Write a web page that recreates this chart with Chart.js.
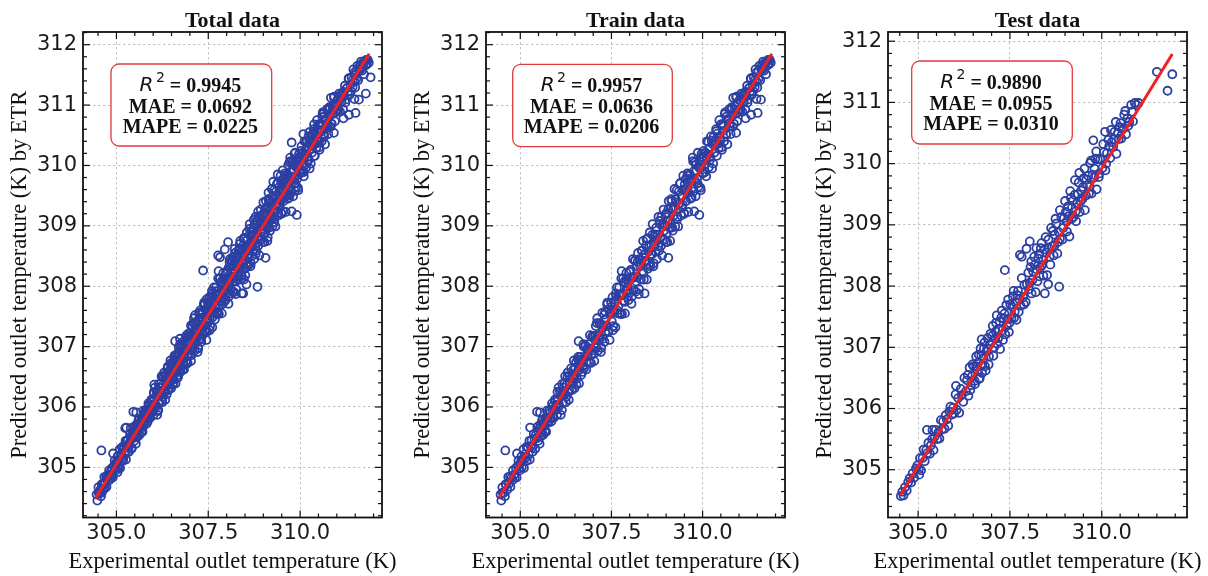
<!DOCTYPE html>
<html>
<head>
<meta charset="utf-8">
<script src="https://cdn.jsdelivr.net/npm/chart.js@4/dist/chart.umd.min.js"></script>
<style>
 body{margin:0;background:#fff;width:1208px;height:576px;position:relative;overflow:hidden}
 canvas{position:absolute;top:0}
</style>
</head>
<body>
<canvas id="c0" width="403" height="576" style="left:0px"></canvas>
<canvas id="c1" width="403" height="576" style="left:403px"></canvas>
<canvas id="c2" width="403" height="576" style="left:805px"></canvas>
<script>
// ---- data ----
const panelTitles=["Total data","Train data","Test data"];
const r2Values=["0.9945","0.9957","0.9890"];
const maeValues=["0.0692","0.0636","0.0955"];
const mapeValues=["0.0225","0.0206","0.0310"];

const xTicks=[305.0,307.5,310.0];
const yTicks=[305,306,307,308,309,310,311,312];

const xTitle="Experimental outlet temperature (K)";
const yTitle="Predicted outlet temperature (K) by ETR";

// [experimental, predicted]
const trainPoints=[
 [304.46,304.55],[304.48,304.45],[304.51,304.67],[304.52,304.58],[304.55,304.58],[304.58,304.52],[304.60,304.72],[304.61,304.71],[304.64,304.63],[304.67,304.84],[304.69,304.73],[304.72,304.85],[304.73,304.68],[304.76,304.83],[304.79,304.79],[304.80,304.95],[304.83,304.88],[304.85,304.83],[304.88,304.99],[304.90,304.83],[304.93,305.02],[304.95,305.11],[304.97,304.98],[304.99,304.95],[304.59,305.28],[304.91,305.23],
 [305.01,305.08],[305.03,305.18],[305.04,305.00],[305.07,305.12],[305.09,305.30],[305.10,304.99],[305.13,305.22],[305.15,305.16],[305.17,305.34],[305.18,305.11],[305.21,305.33],[305.23,305.21],[305.25,305.44],[305.26,305.13],[305.29,305.35],[305.31,305.45],[305.33,305.33],[305.34,305.26],[305.37,305.55],[305.39,305.47],[305.41,305.31],[305.42,305.53],[305.45,305.48],[305.47,305.67],[305.49,305.44],[305.50,305.59],
 [305.53,305.39],[305.55,305.71],[305.57,305.61],[305.58,305.57],[305.61,305.79],[305.63,305.54],[305.65,305.75],[305.66,305.68],[305.69,305.82],[305.71,305.59],[305.73,305.94],[305.74,305.80],[305.77,305.74],[305.79,305.94],[305.81,305.81],[305.82,305.91],[305.85,305.76],[305.87,306.06],[305.89,305.83],[305.90,306.02],[305.93,305.94],[305.95,306.12],[305.97,305.95],[305.99,306.04],[305.46,305.92],[305.27,305.66],[305.54,305.91],
 [305.52,305.64],[305.56,305.51],[305.60,305.78],[305.64,305.70],[305.68,305.59],[305.72,305.81],[305.76,305.77],[305.80,305.95],[305.84,305.81],[305.88,305.95],[305.92,305.82],[305.96,306.09],
 [306.01,305.87],[306.03,306.12],[306.05,306.32],[306.06,306.01],[306.09,306.26],[306.11,305.87],[306.13,306.19],[306.15,306.38],[306.17,306.07],[306.19,306.32],[306.21,306.21],[306.23,306.51],[306.25,306.08],[306.27,306.37],[306.29,306.49],[306.31,306.24],[306.33,306.12],[306.35,306.51],[306.37,306.40],[306.39,306.64],[306.41,306.29],[306.43,306.50],[306.45,306.42],[306.47,306.77],[306.49,306.31],
 [306.02,306.25],[306.06,306.04],[306.10,306.23],[306.14,305.95],[306.18,306.24],[306.22,306.40],[306.26,306.17],[306.30,306.57],[306.34,306.28],[306.38,306.47],[306.42,306.28],[306.46,306.62],[306.50,306.53],[306.54,306.37],[306.58,306.79],[306.62,306.61],[306.66,306.78],[306.70,306.58],[306.74,307.00],[306.82,306.75],[306.88,306.95],[306.94,306.73],
 [306.51,306.65],[306.53,306.74],[306.55,306.47],[306.57,306.59],[306.59,306.83],[306.61,306.39],[306.63,306.74],[306.65,306.83],[306.67,306.53],[306.69,306.78],[306.71,306.67],[306.73,307.04],[306.75,306.64],[306.77,306.83],[306.79,307.02],[306.81,306.62],[306.83,306.96],[306.85,306.84],[306.87,307.04],[306.89,306.74],[306.91,307.19],[306.93,306.97],[306.95,306.87],[306.97,307.17],[306.99,306.94],[306.60,307.09],
 [307.01,307.17],[307.03,306.76],[307.05,307.12],[307.07,307.34],[307.09,306.98],[307.11,307.47],[307.13,306.93],[307.15,307.19],[307.17,307.39],[307.19,307.14],[307.21,306.91],[307.23,307.36],[307.25,307.56],[307.27,307.13],[307.29,307.35],[307.31,307.08],[307.33,307.58],[307.35,307.46],[307.37,307.34],[307.39,307.73],[307.41,307.25],[307.43,307.61],[307.45,307.11],[307.47,307.56],[307.49,307.73],
 [307.02,306.88],[307.06,307.18],[307.10,307.39],[307.14,307.11],[307.18,307.38],[307.22,306.98],[307.26,307.31],[307.30,307.53],[307.34,307.25],[307.38,307.70],[307.42,307.25],[307.46,307.54],[307.50,307.66],[307.54,307.27],[307.58,307.60],[307.62,307.88],[307.66,307.60],[307.70,307.85],[307.74,307.54],[307.78,307.85],[307.82,308.13],[307.86,307.74],[307.90,308.11],[307.94,307.93],[307.98,308.10],
 [307.51,307.42],[307.53,307.82],[307.55,307.34],[307.57,307.59],[307.59,307.74],[307.61,307.32],[307.63,307.83],[307.65,307.98],[307.67,307.55],[307.69,307.67],[307.71,307.98],[307.73,307.55],[307.75,307.86],[307.77,308.13],[307.79,307.54],[307.81,307.88],[307.83,307.76],[307.85,308.07],[307.87,307.55],[307.89,308.05],[307.91,308.22],[307.93,307.82],[307.95,307.99],[307.97,307.77],[307.99,308.24],[307.78,308.25],
 [308.01,307.89],[308.03,308.27],[308.05,307.71],[308.07,308.15],[308.09,308.45],[308.11,307.93],[308.13,308.15],[308.15,308.43],[308.17,307.91],[308.19,308.33],[308.21,308.15],[308.23,308.55],[308.25,307.87],[308.27,308.45],[308.29,308.33],[308.31,308.11],[308.33,308.59],[308.35,308.25],[308.37,308.75],[308.39,308.11],[308.41,308.53],[308.43,308.41],[308.45,308.67],[308.47,308.11],[308.49,308.79],
 [308.02,308.14],[308.06,307.83],[308.10,308.14],[308.14,308.42],[308.18,308.08],[308.22,308.41],[308.26,307.95],[308.30,308.37],[308.34,308.59],[308.38,308.22],[308.42,308.42],[308.46,308.78],[308.50,308.29],[308.54,308.65],[308.58,308.53],[308.62,308.85],[308.66,308.38],[308.70,308.86],[308.74,308.76],[308.78,308.66],[308.82,309.08],[308.86,308.67],[308.90,308.99],[308.94,308.92],[308.98,309.19],
 [308.51,308.57],[308.53,308.37],[308.55,308.89],[308.57,308.33],[308.59,308.69],[308.61,308.53],[308.63,309.03],[308.65,308.33],[308.67,308.83],[308.69,308.69],[308.71,308.57],[308.73,308.97],[308.75,308.45],[308.77,308.85],[308.79,309.15],[308.81,308.59],[308.83,309.03],[308.85,308.81],[308.87,309.15],[308.89,308.51],[308.91,309.03],[308.93,309.27],[308.95,308.77],[308.97,309.01],[308.99,308.73],[309.06,308.47],[308.41,307.88],
 [309.01,309.21],[309.03,308.73],[309.05,309.09],[309.07,309.41],[309.09,308.97],[309.11,308.75],[309.13,309.29],[309.15,309.41],[309.17,308.97],[309.19,309.27],[309.21,309.17],[309.23,309.61],[309.25,308.99],[309.27,309.39],[309.29,309.59],[309.31,309.15],[309.33,308.99],[309.35,309.57],[309.37,309.37],[309.39,309.71],[309.41,309.17],[309.43,309.49],[309.45,309.35],[309.47,309.83],[309.49,309.21],
 [309.02,308.88],[309.06,309.27],[309.10,309.07],[309.14,309.44],[309.18,308.92],[309.22,309.31],[309.26,309.44],[309.30,309.11],[309.34,309.36],[309.38,309.70],[309.42,309.32],[309.46,309.60],[309.50,309.20],[309.54,309.59],[309.58,309.83],[309.62,309.55],[309.66,309.78],[309.70,309.47],[309.74,310.07],[309.78,309.76],[309.82,310.01],[309.86,309.70],[309.90,309.97],[309.94,309.63],[309.98,310.14],
 [309.51,309.69],[309.53,309.77],[309.55,309.41],[309.57,309.55],[309.59,309.87],[309.61,309.23],[309.63,309.73],[309.65,309.85],[309.67,309.45],[309.69,309.73],[309.71,309.63],[309.73,310.13],[309.75,309.57],[309.77,309.91],[309.79,310.05],[309.81,309.49],[309.83,309.91],[309.85,309.79],[309.87,310.21],[309.89,309.65],[309.91,310.07],[309.93,309.95],[309.95,309.59],[309.97,310.19],[309.99,309.87],[309.91,309.18],[309.77,309.24],
 [310.01,309.87],[310.03,310.24],[310.05,310.02],[310.08,310.21],[310.10,309.82],[310.12,310.40],[310.14,310.18],[310.17,309.97],[310.19,310.29],[310.21,310.14],[310.23,310.48],[310.26,309.95],[310.28,310.35],[310.30,310.47],[310.32,310.21],[310.35,310.34],[310.37,310.60],[310.39,310.16],[310.41,310.53],[310.44,310.29],[310.46,310.75],[310.48,310.42],
 [310.02,310.14],[310.07,309.89],[310.11,310.14],[310.16,310.39],[310.20,310.09],[310.25,310.41],[310.29,310.03],[310.34,310.40],[310.38,310.57],[310.43,310.36],[310.47,310.46],[310.52,310.30],[310.56,310.69],[310.61,310.85],[310.65,310.51],[310.70,310.77],[310.74,310.70],[310.79,310.96],[310.83,310.64],[310.88,310.93],[310.92,311.13],[310.97,310.88],
 [310.50,310.68],[310.53,310.26],[310.55,310.57],[310.57,310.66],[310.59,310.40],[310.62,310.88],[310.64,310.52],[310.66,310.81],[310.68,310.35],[310.71,310.76],[310.73,310.93],[310.75,310.66],[310.77,310.52],[310.80,310.93],[310.82,310.83],[310.84,311.12],[310.86,310.69],[310.89,310.99],[310.91,310.87],[310.93,311.14],[310.95,310.73],[310.98,311.02],[310.92,310.54],
 [311.01,311.08],[311.04,310.93],[311.06,311.19],[311.09,310.89],[311.11,311.10],[311.14,311.18],[311.17,310.93],[311.19,311.15],[311.22,311.32],[311.24,311.09],[311.27,311.28],[311.30,311.22],[311.32,311.44],[311.35,311.17],[311.37,311.34],[311.40,311.46],[311.43,311.30],[311.45,311.59],[311.48,311.39],[311.50,311.29],[311.53,311.56],[311.56,311.65],[311.58,311.41],[311.61,311.59],[311.63,311.57],[311.66,311.72],[311.69,311.57],[311.71,311.70],[311.74,311.51],[311.76,311.72],[311.79,311.66],[311.82,311.68],[311.84,311.75],[311.87,311.70],
 [311.03,310.91],[311.08,311.16],[311.13,311.06],[311.18,311.22],[311.23,311.04],[311.28,311.28],[311.33,311.44],[311.38,311.23],[311.43,311.41],[311.48,311.54],[311.53,311.43],[311.63,311.66],[311.73,311.70],[311.80,311.75],
 [311.60,311.09],[311.33,310.84],[311.00,310.92],[311.18,310.78],[311.48,311.10],[311.51,310.87]
];

const testPoints=[
 [304.53,304.57],[304.57,304.64],[304.60,304.58],[304.64,304.71],[304.69,304.66],[304.73,304.80],[304.77,304.86],[304.81,304.79],[304.85,304.94],[304.89,304.87],[304.94,305.02],[304.98,305.07],[305.03,304.92],
 [305.02,305.01],[305.05,305.19],[305.08,304.99],[305.12,305.19],[305.15,305.33],[305.18,305.14],[305.22,305.32],[305.25,305.27],[305.28,305.44],[305.32,305.26],[305.35,305.40],[305.38,305.50],[305.42,305.32],[305.45,305.54],[305.48,305.65],[305.52,305.50],[305.55,305.61],[305.58,305.51],[305.62,305.81],[305.65,305.66],[305.68,305.79],[305.72,305.67],[305.75,305.89],[305.78,305.82],[305.82,305.72],[305.85,305.95],[305.88,306.03],[305.92,305.90],[305.95,306.01],[305.98,305.92],[305.24,305.65],[305.39,305.65],
 [306.02,306.23],[306.05,305.98],[306.09,306.17],[306.12,305.93],[306.16,306.32],[306.19,306.22],[306.23,306.11],[306.26,306.50],[306.30,306.28],[306.33,306.46],[306.37,306.21],[306.40,306.67],[306.44,306.38],[306.47,306.53],[306.51,306.69],[306.54,306.45],[306.58,306.69],[306.61,306.62],[306.65,306.88],[306.68,306.50],[306.72,306.86],[306.75,306.71],[306.79,306.98],[306.82,306.69],[306.86,306.93],[306.89,307.15],[306.93,306.85],[306.96,307.05],[306.03,306.37],[306.73,307.13],
 [306.35,306.55],[306.42,306.30],[306.48,306.72],[306.55,306.40],[306.58,306.85],[306.63,306.75],[306.66,306.48],[306.70,306.98],[306.74,306.58],[306.78,306.82],[306.81,307.08],[306.84,306.62],[306.88,306.98],[306.92,306.72],[306.97,307.22],
 [307.02,307.19],[307.05,306.86],[307.09,307.14],[307.12,307.40],[307.16,307.06],[307.19,307.30],[307.23,306.97],[307.26,307.48],[307.30,307.28],[307.33,307.47],[307.37,307.21],[307.40,307.69],[307.44,307.46],[307.47,307.25],[307.51,307.70],[307.54,307.47],[307.58,307.83],[307.61,307.48],[307.65,307.73],[307.68,307.45],[307.72,307.92],[307.75,307.79],[307.79,307.68],[307.82,308.13],[307.86,307.82],[307.89,308.02],[307.93,307.74],[307.96,308.03],[307.36,308.26],[307.77,308.51],
 [307.03,307.35],[307.07,307.00],[307.11,307.26],[307.14,307.52],[307.18,307.15],[307.22,307.42],[307.28,307.60],[307.31,307.12],[307.35,307.55],[307.42,307.35],[307.45,307.78],[307.49,307.40],[307.56,307.66],[307.60,307.92],[307.63,307.58],[307.70,307.85],[307.74,307.58],[307.82,308.48],[307.88,307.70],[307.95,308.61],
 [308.02,307.95],[308.06,308.31],[308.09,307.88],[308.13,308.24],[308.16,308.48],[308.20,307.90],[308.23,308.27],[308.27,308.45],[308.30,308.16],[308.34,308.62],[308.37,308.34],[308.41,308.17],[308.44,308.60],[308.48,308.55],[308.51,308.18],[308.55,308.76],[308.58,308.48],[308.62,308.95],[308.65,308.65],[308.69,308.50],[308.72,308.84],[308.76,309.02],[308.79,308.53],[308.83,308.88],[308.86,308.77],[308.90,309.13],[308.93,308.76],[308.97,309.11],[308.04,308.73],[308.84,307.99],
 [308.00,308.22],[308.04,308.05],[308.08,308.40],[308.11,308.10],[308.18,308.35],[308.22,308.62],[308.25,308.08],[308.29,308.52],[308.32,308.30],[308.36,308.70],[308.40,308.42],[308.45,307.88],[308.47,308.80],[308.54,308.03],[308.56,308.62],[308.60,308.35],[308.67,308.90],[308.71,308.66],[308.74,309.10],[308.81,308.72],[308.86,309.24],[308.95,308.95],
 [309.02,309.21],[309.05,308.89],[309.09,309.14],[309.12,308.81],[309.16,309.44],[309.19,309.28],[309.23,309.13],[309.26,309.49],[309.30,309.06],[309.33,309.35],[309.37,309.69],[309.40,309.21],[309.44,309.56],[309.47,309.42],[309.51,309.76],[309.54,309.24],[309.58,309.74],[309.61,309.65],[309.65,309.51],[309.68,310.01],[309.72,309.51],[309.75,309.82],[309.79,309.77],[309.82,310.08],[309.86,309.58],[309.89,310.07],[309.93,309.84],[309.96,310.07],[309.77,310.38],
 [309.00,309.39],[309.04,309.05],[309.08,309.30],[309.14,309.55],[309.18,309.10],[309.22,309.40],[309.27,309.73],[309.29,309.22],[309.35,309.50],[309.39,309.85],[309.42,309.38],[309.49,309.62],[309.53,309.92],[309.57,309.48],[309.63,309.80],[309.67,309.62],[309.71,310.05],[309.80,309.92],[309.85,310.20],[309.92,309.78],
 [310.02,309.93],[310.06,310.19],[310.10,309.89],[310.14,310.17],[310.18,310.39],[310.23,310.09],[310.27,310.35],[310.31,310.27],[310.35,310.52],[310.40,310.16],[310.44,310.50],[310.48,310.60],[310.53,310.41],[310.57,310.56],[310.61,310.80],[310.66,310.48],[310.70,310.74],[310.75,310.68],[310.80,310.96],[310.85,310.69],[310.90,310.99],[310.95,310.96],[310.09,310.52],[311.00,310.99],
 [310.04,310.32],[310.12,310.00],[310.20,310.28],[310.25,310.55],[310.33,310.40],[310.38,310.68],[310.46,310.40],[310.51,310.66],[310.59,310.58],[310.64,310.86],[310.72,310.62],[310.82,310.85],
 [311.50,311.50],[311.92,311.46],[311.79,311.19]
];

const totalPoints=trainPoints.concat(testPoints);

// end points of the red fit line in each panel
const totalLine=[[304.43,304.49],[311.88,311.85]];
const trainLine=[[304.42,304.50],[311.90,311.85]];
const testLine=[[304.52,304.59],[311.92,311.79]];

// axis extents per panel
const xRanges=[[304.09,312.23],[304.06,312.26],[304.18,312.32]];
const yRanges=[[304.17,312.21],[304.17,312.21],[304.22,312.15]];

// ---- drawing ----
const SERIF='"Liberation Serif","Times New Roman",serif';
const SANS='"DejaVu Sans",sans-serif';

const panelPlugin={
 id:"panel",
 afterDraw(chart,args,o){
  const ctx=chart.ctx,a=chart.chartArea,xs=chart.scales.x,ys=chart.scales.y;
  ctx.save();
  ctx.strokeStyle="#111";
  ctx.lineWidth=1.2;
  const seg=(x1,y1,x2,y2)=>{ctx.beginPath();ctx.moveTo(x1,y1);ctx.lineTo(x2,y2);ctx.stroke();};
  // x ticks, minor every 0.5
  for(let k=Math.ceil(xs.min/0.5);k*0.5<=xs.max;k++){
   const len=(k%5===0)?7:4,p=xs.getPixelForValue(k*0.5);
   seg(p,a.bottom,p,a.bottom-len);seg(p,a.top,p,a.top+len);
  }
  // y ticks, minor every 0.2
  for(let k=Math.ceil(ys.min/0.2);k*0.2<=ys.max;k++){
   const len=(k%5===0)?7:4,p=ys.getPixelForValue(k*0.2);
   seg(a.left,p,a.left+len,p);seg(a.right,p,a.right-len,p);
  }
  ctx.lineWidth=1.8;
  ctx.strokeRect(a.left,a.top,a.right-a.left,a.bottom-a.top);

  ctx.fillStyle="#111";
  ctx.textAlign="center";
  ctx.textBaseline="middle";
  ctx.font="bold 22px "+SERIF;
  ctx.fillText(o.title,(a.left+a.right)/2,21);
  ctx.font="22.5px "+SERIF;
  ctx.fillText(xTitle,(a.left+a.right)/2,562);
  ctx.save();
  ctx.translate(20,(a.top+a.bottom)/2);
  ctx.rotate(-Math.PI/2);
  ctx.fillText(yTitle,0,0);
  ctx.restore();

  // metrics box
  const b=o.box;
  ctx.beginPath();
  ctx.roundRect(b.x,b.y,b.w,b.h,8);
  ctx.fillStyle="#fff";ctx.fill();
  ctx.strokeStyle="#e23a3c";ctx.lineWidth=1.3;ctx.stroke();
  ctx.fillStyle="#111";
  ctx.textBaseline="alphabetic";
  const cx=b.x+b.w/2-1;
  const rest=" = "+o.r2;
  ctx.font="italic 20px "+SANS;const wR=ctx.measureText("R").width;
  ctx.font="14px "+SANS;const w2=ctx.measureText("2").width;
  ctx.font="bold 20px "+SERIF;const wRest=ctx.measureText(rest).width;
  const x0=cx-(wR+2.5+w2+wRest)/2;
  ctx.textAlign="left";
  ctx.font="italic 20px "+SANS;ctx.fillText("R",x0,b.y+26.8);
  ctx.font="14px "+SANS;ctx.fillText("2",x0+wR+2.5,b.y+17.8);
  ctx.font="bold 20px "+SERIF;ctx.fillText(rest,x0+wR+2.5+w2,b.y+27.7);
  ctx.textAlign="center";
  ctx.fillText("MAE = "+o.mae,cx,b.y+48.7);
  ctx.fillText("MAPE = "+o.mape,cx,b.y+68.8);
  ctx.restore();
 }
};

const boxes=[{x:111,y:64,w:160.7,h:82},{x:109.7,y:64.3,w:159.6,h:82.4},{x:106.7,y:61,w:160.6,h:83}];

function toXY(list){return list.map(p=>({x:p[0],y:p[1]}));}

function makePanel(i,points,line){
 new Chart(document.getElementById("c"+i),{
  type:"scatter",
  data:{datasets:[
   {type:"line",data:toXY(line),borderColor:"#ec2227",borderWidth:3,pointRadius:0,fill:false},
   {data:toXY(points),pointRadius:4,borderWidth:1.8,borderColor:"#2c3fa3",backgroundColor:"rgba(0,0,0,0)"}
  ]},
  options:{
   responsive:false,animation:false,events:[],
   layout:{padding:{top:32,right:21,left:0,bottom:0}},
   plugins:{legend:{display:false},tooltip:{enabled:false},
    panel:{title:panelTitles[i],r2:r2Values[i],mae:maeValues[i],mape:mapeValues[i],box:boxes[i]}},
   scales:{
    x:{type:"linear",min:xRanges[i][0],max:xRanges[i][1],bounds:"data",
     afterFit:s=>{s.height=58.5;},
     afterBuildTicks:s=>{s.ticks=xTicks.map(v=>({value:v}));},
     ticks:{callback:v=>v.toFixed(1),font:{family:"DejaVu Sans",size:21},color:"#1a1a1a",padding:3,maxRotation:0,autoSkip:false},
     grid:{color:"#b4b4b4",lineWidth:0.8,drawTicks:false},
     border:{display:false,dash:[2.5,2.5]}},
    y:{type:"linear",min:yRanges[i][0],max:yRanges[i][1],bounds:"data",
     afterFit:s=>{s.width=83;},
     afterBuildTicks:s=>{s.ticks=yTicks.map(v=>({value:v}));},
     ticks:{callback:v=>String(v),font:{family:"DejaVu Sans",size:21},color:"#1a1a1a",padding:6,autoSkip:false},
     grid:{color:"#b4b4b4",lineWidth:0.8,drawTicks:false},
     border:{display:false,dash:[2.5,2.5]}}
   }
  },
  plugins:[panelPlugin]
 });
}

makePanel(0,totalPoints,totalLine);
makePanel(1,trainPoints,trainLine);
makePanel(2,testPoints,testLine);
</script>
</body>
</html>
